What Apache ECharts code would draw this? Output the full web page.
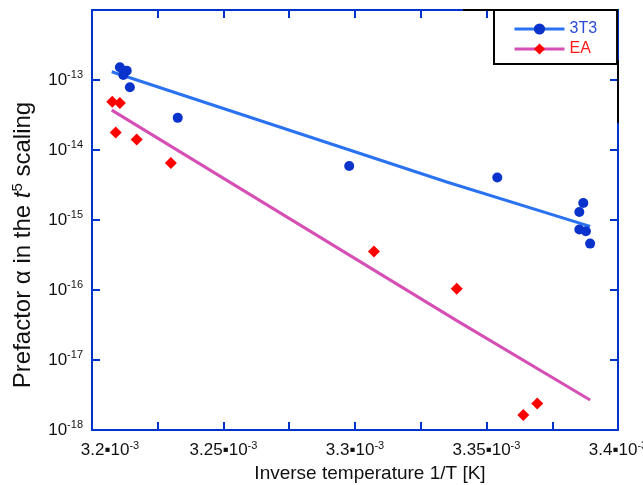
<!DOCTYPE html>
<html>
<head>
<meta charset="utf-8">
<script src="https://cdn.jsdelivr.net/npm/echarts@6/dist/echarts.min.js"></script>
<style>
  html, body { margin: 0; padding: 0; background: #fff; }
  #chart { width: 643px; height: 485px; }
</style>
</head>
<body>
<div id="chart"></div>
<script>
// inverse temperature in units of 1e-3 1/K, prefactor alpha
var invT_3T3 = [3.2106, 3.2132, 3.2119, 3.2144, 3.2326, 3.2978, 3.3541, 3.3868, 3.3853, 3.3853, 3.3878, 3.3894];
var alpha_3T3 = [1.52e-13, 1.36e-13, 1.18e-13, 7.9e-14, 2.88e-14, 5.9e-15, 4.05e-15, 1.75e-15, 1.3e-15, 7.3e-16, 6.9e-16, 4.6e-16];

var invT_EA = [3.2077, 3.2106, 3.2090, 3.2170, 3.2300, 3.3072, 3.3387, 3.3693, 3.3640];
var alpha_EA = [4.9e-14, 4.7e-14, 1.78e-14, 1.41e-14, 6.5e-15, 3.55e-16, 1.04e-16, 2.4e-18, 1.64e-18];

// fitted lines
var fitX_3T3 = [3.2075, 3.3349, 3.3894];
var fitY_3T3 = [1.31e-13, 3.49e-15, 8.1e-16];
var fitX_EA = [3.2075, 3.3387, 3.3894];
var fitY_EA = [3.71e-14, 3.65e-17, 2.69e-18];

var xTicks = [3.2, 3.25, 3.3, 3.35, 3.4];
var yTicks = [-13, -14, -15, -16, -17, -18];

function pairs(xs, ys) {
    var out = [];
    for (var i = 0; i < xs.length; i++) out.push([xs[i], ys[i]]);
    return out;
}

var FONT = 'Liberation Sans';
var FRAME = '#0033cc';

function xLabel(v) {
    for (var i = 0; i < xTicks.length; i++) {
        if (Math.abs(v - xTicks[i]) < 1e-6) {
            var st = i === 0 ? 'bf' : 'b';
            return '{' + st + '|' + xTicks[i] + '\u25AA10}{s|-3}';
        }
    }
    return '';
}

function yLabel(v) {
    var e = Math.round(Math.log10(v));
    if (yTicks.indexOf(e) < 0) return '';
    return '{b|10}{s|' + e + '}';
}

var labelRich = {
    b: { fontSize: 17, fontFamily: FONT, color: '#111' },
    bf: { fontSize: 17, fontFamily: FONT, color: '#111', padding: [0, 0, 0, 36] },
    s: { fontSize: 11, fontFamily: FONT, color: '#111', padding: [0, 0, 10, 0] }
};

function frameX(pos, labels) {
    return {
        type: 'value', position: pos, min: 3.2, max: 3.4, interval: 0.025,
        axisLine: { onZero: false, lineStyle: { color: FRAME, width: 2 } },
        axisTick: { inside: true, length: 8, lineStyle: { color: FRAME, width: 2 } },
        splitLine: { show: false },
        axisLabel: labels ? { formatter: xLabel, margin: 10, rich: labelRich, showMinLabel: true, showMaxLabel: true } : { show: false }
    };
}

function frameY(pos, labels) {
    return {
        type: 'log', logBase: 10, position: pos, min: 1e-18, max: 1e-12, interval: 1, splitNumber: 6,
        axisLine: { onZero: false, lineStyle: { color: FRAME, width: 2 } },
        axisTick: { inside: true, length: 8, lineStyle: { color: FRAME, width: 2 } },
        splitLine: { show: false },
        minorTick: { show: false },
        axisLabel: labels ? { formatter: yLabel, margin: 9, rich: labelRich } : { show: false }
    };
}

var xBottom = frameX('bottom', true);
xBottom.name = 'Inverse temperature 1/T [K]';
xBottom.nameLocation = 'middle';
xBottom.nameGap = 32;
xBottom.nameTextStyle = { fontSize: 19, fontFamily: FONT, color: '#111', padding: [0, 0, 0, 30] };

var yLeft = frameY('left', true);
yLeft.name = 'Prefactor \u03B1 in the {i|t}{sup|5} scaling';
yLeft.nameLocation = 'middle';
yLeft.nameGap = 55;
yLeft.nameTextStyle = {
    fontSize: 24, fontFamily: FONT, color: '#111', padding: [0, 50, 0, 0],
    rich: {
        i: { fontSize: 24, fontFamily: FONT, fontStyle: 'italic', color: '#111' },
        sup: { fontSize: 15, fontFamily: FONT, color: '#111', padding: [0, 0, 12, 0] }
    }
};

var chart = echarts.init(document.getElementById('chart'));
chart.setOption({
    animation: false,
    backgroundColor: '#fff',
    grid: { left: 92, right: 25, top: 10, bottom: 55, outerBoundsMode: 'none' },
    xAxis: [xBottom, frameX('top', false)],
    yAxis: [yLeft, frameY('right', false)],
    legend: {
        data: [
            { name: '3T3', textStyle: { color: '#2a4ad8' } },
            { name: 'EA', textStyle: { color: '#ff1a1a' } }
        ],
        orient: 'vertical', left: 494, top: 10,
        itemWidth: 50, itemHeight: 14, itemGap: 4,
        padding: [11, 20, 7, 19],
        backgroundColor: '#fff', borderColor: '#000', borderWidth: 2, borderRadius: 0,
        textStyle: { fontSize: 16, fontFamily: FONT },
        lineStyle: { width: 3 },
        selectedMode: false
    },
    graphic: [
        { type: 'line', z: 100, shape: { x1: 463, y1: 10, x2: 495, y2: 10 }, style: { stroke: '#000', lineWidth: 2 } },
        { type: 'line', z: 100, shape: { x1: 618, y1: 60, x2: 618, y2: 123 }, style: { stroke: '#000', lineWidth: 2 } }
    ],
    series: [
        {
            name: '3T3', type: 'line', data: pairs(fitX_3T3, fitY_3T3),
            symbol: 'circle', symbolSize: 11, showSymbol: false, z: 2,
            lineStyle: { color: '#2a72f0', width: 3 }, itemStyle: { color: '#0a33cc' }
        },
        {
            name: '3T3', type: 'scatter', data: pairs(invT_3T3, alpha_3T3),
            symbol: 'circle', symbolSize: 10, z: 3, itemStyle: { color: '#0a33cc', opacity: 1 }
        },
        {
            name: 'EA', type: 'line', data: pairs(fitX_EA, fitY_EA),
            symbol: 'diamond', symbolSize: 12, showSymbol: false, z: 2,
            lineStyle: { color: '#d64fb5', width: 3 }, itemStyle: { color: '#ff0000' }
        },
        {
            name: 'EA', type: 'scatter', data: pairs(invT_EA, alpha_EA),
            symbol: 'diamond', symbolSize: 12, z: 3, itemStyle: { color: '#ff0000', opacity: 1 }
        }
    ]
});
</script>
</body>
</html>
